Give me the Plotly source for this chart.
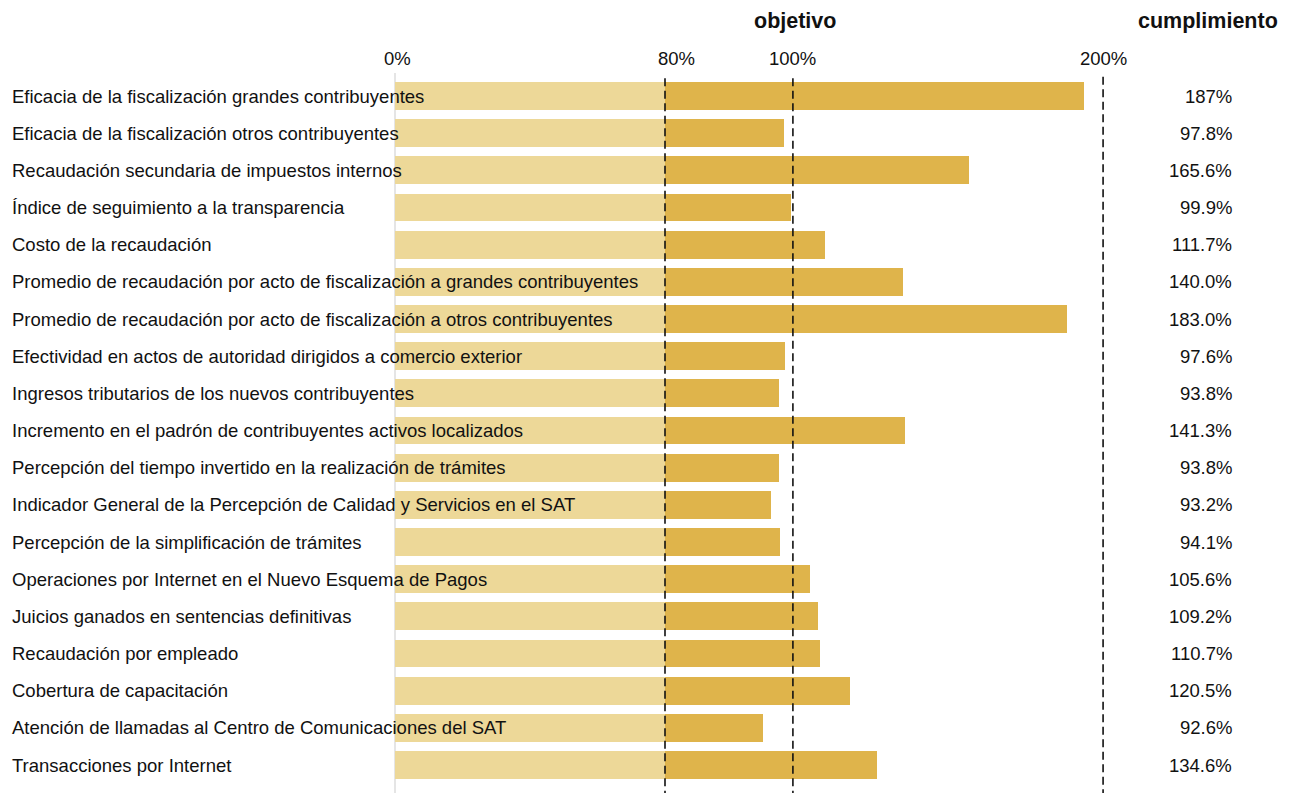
import plotly.graph_objects as go

# Indicator names (top to bottom)
indicadores = [
    "Eficacia de la fiscalización grandes contribuyentes",
    "Eficacia de la fiscalización otros contribuyentes",
    "Recaudación secundaria de impuestos internos",
    "Índice de seguimiento a la transparencia",
    "Costo de la recaudación",
    "Promedio de recaudación por acto de fiscalización a grandes contribuyentes",
    "Promedio de recaudación por acto de fiscalización a otros contribuyentes",
    "Efectividad en actos de autoridad dirigidos a comercio exterior",
    "Ingresos tributarios de los nuevos contribuyentes",
    "Incremento en el padrón de contribuyentes activos localizados",
    "Percepción del tiempo invertido en la realización de trámites",
    "Indicador General de la Percepción de Calidad y Servicios en el SAT",
    "Percepción de la simplificación de trámites",
    "Operaciones por Internet en el Nuevo Esquema de Pagos",
    "Juicios ganados en sentencias definitivas",
    "Recaudación por empleado",
    "Cobertura de capacitación",
    "Atención de llamadas al Centro de Comunicaciones del SAT",
    "Transacciones por Internet",
]

# Compliance labels (right column)
cumplimiento = ["187%", "97.8%", "165.6%", "99.9%", "111.7%", "140.0%", "183.0%",
                "97.6%", "93.8%", "141.3%", "93.8%", "93.2%", "94.1%", "105.6%",
                "109.2%", "110.7%", "120.5%", "92.6%", "134.6%"]

# Bar end positions, in the chart's axis units
avance = [204.1, 115.3, 170.1, 117.3, 127.4, 150.5, 199.1, 115.6, 113.8, 151.1,
          113.8, 111.4, 114.1, 123.0, 125.3, 125.9, 134.8, 109.0, 142.8]

# Base segment (0% to 80%) in axis units
base_fin = 80.0

# Axis ticks: labels and their positions on the axis
tick_labels = ["0%", "80%", "100%", "200%"]
tick_pos = [0.0, 80.0, 117.9, 209.8]

LIGHT = "#EDD898"
DARK = "#DFB44B"
FONT = "Liberation Sans, Arial, sans-serif"
OFF = 8  # page offset compensation

n = len(indicadores)
ys = list(range(n))

fig = go.Figure()
fig.add_trace(go.Bar(
    y=ys, x=[base_fin] * n, base=0, orientation="h",
    marker=dict(color=LIGHT, line=dict(width=0)), width=0.75,
    hoverinfo="skip", showlegend=False,
))
fig.add_trace(go.Bar(
    y=ys, x=[a - base_fin for a in avance], base=base_fin, orientation="h",
    marker=dict(color=DARK, line=dict(width=0)), width=0.75,
    hoverinfo="skip", showlegend=False,
))

row_px = 37.17
top_px = 96.0 - OFF
H = 793
W = 1292
y_top = -top_px / row_px
y_bot = (H - top_px) / row_px

px_per_unit = 3.375
zero_px = 395.0 - OFF
x_min = -zero_px / px_per_unit
x_max = (W - zero_px) / px_per_unit

shapes = []
# zero gridline
shapes.append(dict(type="line", xref="x", yref="y", x0=0, x1=0,
                   y0=-0.62, y1=y_bot, layer="below",
                   line=dict(color="#DDDDDD", width=1.5)))
# dashed reference lines
for p, y0 in zip(tick_pos[1:], [-0.48, -0.48, -0.52]):
    shapes.append(dict(type="line", xref="x", yref="y", x0=p, x1=p,
                       y0=y0, y1=y_bot, layer="above",
                       line=dict(color="#111111", width=1.6, dash="8px,4.5px")))

annotations = []
for i, name in enumerate(indicadores):
    annotations.append(dict(
        x=(12 - OFF - 2) / W, xref="paper", y=i, yref="y", text=name, showarrow=False,
        xanchor="left", yanchor="middle",
        font=dict(family=FONT, size=18.5, color="#111111"),
    ))
    annotations.append(dict(
        x=(1232 - OFF + 2) / W, xref="paper", y=i, yref="y", text=cumplimiento[i],
        showarrow=False, xanchor="right", yanchor="middle",
        font=dict(family=FONT, size=18.5, color="#111111"),
    ))

for lab, p in zip(tick_labels, tick_pos):
    shift = 11 if lab == "80%" else (2 if lab == "0%" else 0)
    annotations.append(dict(
        x=p, xref="x", y=-1, yref="y", text=lab, showarrow=False,
        xanchor="center", yanchor="middle", xshift=shift, yshift=0,
        font=dict(family=FONT, size=18.5, color="#111111"),
    ))

annotations.append(dict(
    x=(795 - OFF) / W, xref="paper", y=1 - (21 - OFF) / H, yref="paper",
    text="<b>objetivo</b>", showarrow=False, xanchor="center", yanchor="middle",
    font=dict(family=FONT, size=21.5, color="#111111"),
))
annotations.append(dict(
    x=(1208 - OFF) / W, xref="paper", y=1 - (21 - OFF) / H, yref="paper",
    text="<b>cumplimiento</b>", showarrow=False, xanchor="center", yanchor="middle",
    font=dict(family=FONT, size=21.5, color="#111111"),
))

fig.update_layout(
    width=W, height=H,
    margin=dict(l=0, r=0, t=0, b=0),
    paper_bgcolor="white", plot_bgcolor="white",
    barmode="overlay", bargap=0,
    xaxis=dict(range=[x_min, x_max], visible=False, fixedrange=True),
    yaxis=dict(range=[y_bot, y_top], visible=False, fixedrange=True),
    shapes=shapes, annotations=annotations,
    showlegend=False,
)

fig.write_html("out.html")
